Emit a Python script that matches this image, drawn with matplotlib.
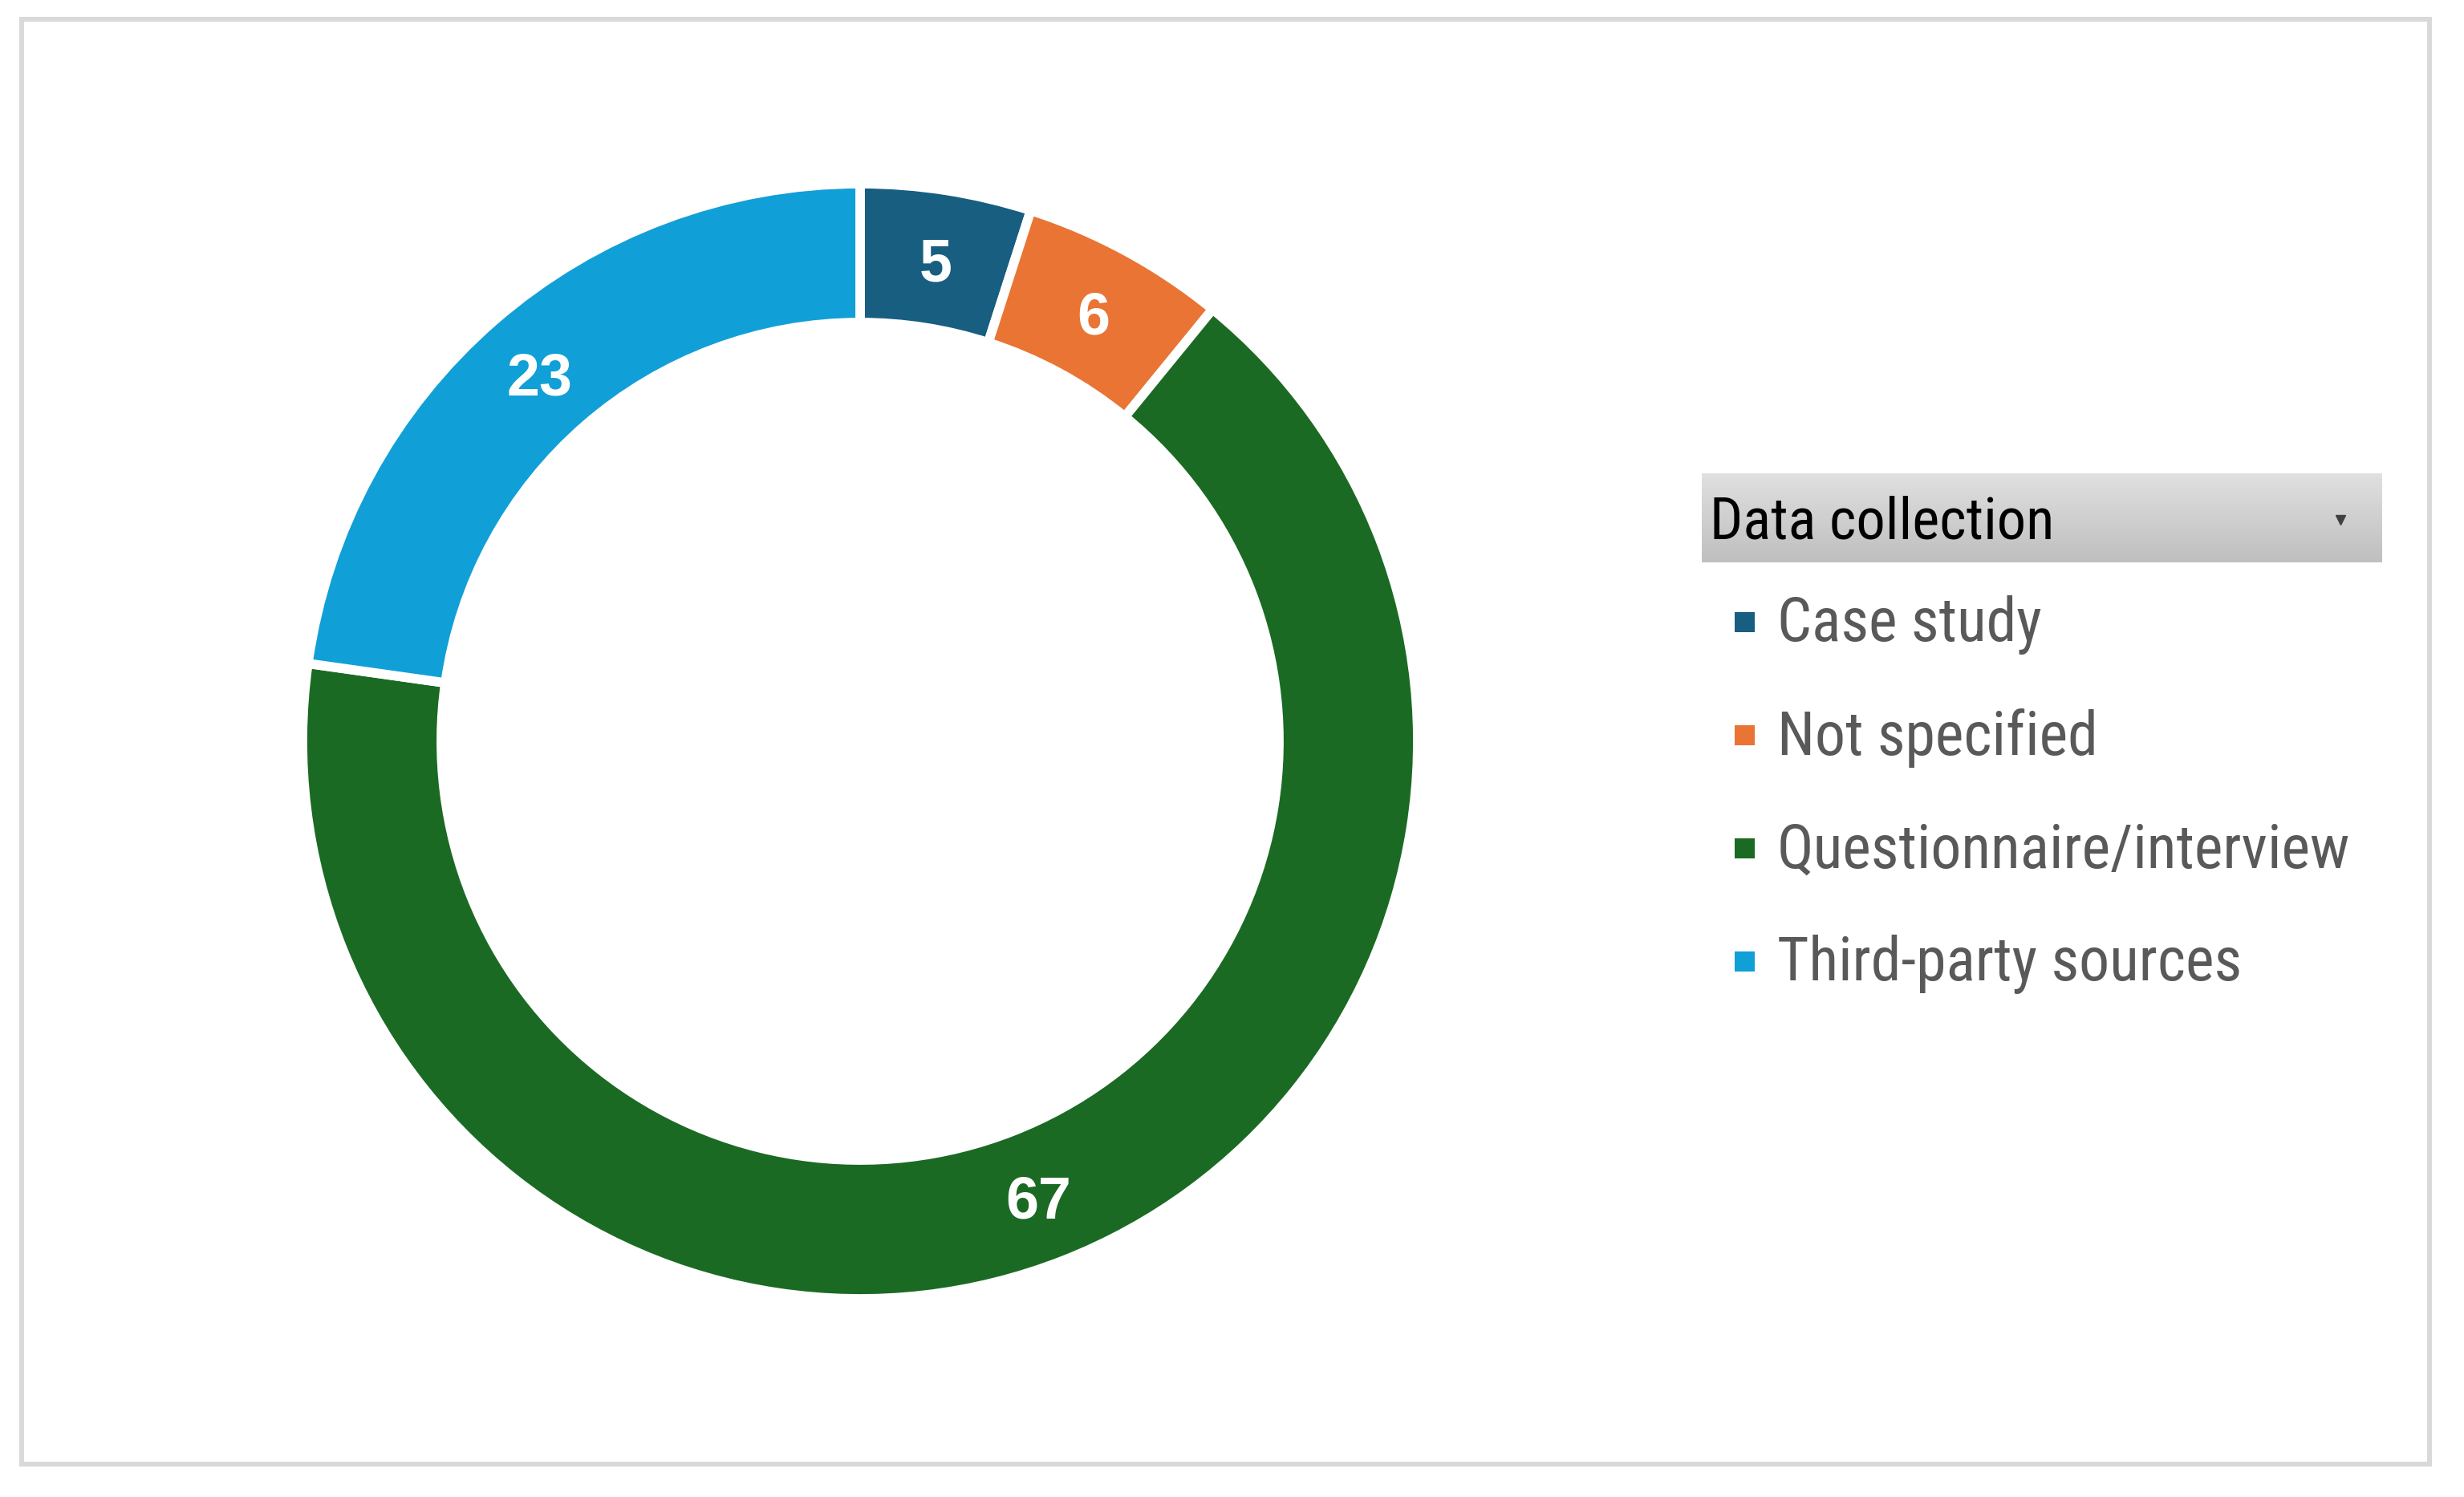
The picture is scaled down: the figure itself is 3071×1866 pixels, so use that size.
#!/usr/bin/env python3

"""Donut chart of data collection methods."""

import matplotlib as mpl
import matplotlib.pyplot as plt
import numpy as np
from matplotlib import font_manager
from matplotlib.colors import LinearSegmentedColormap
from matplotlib.patches import Rectangle

mpl.use("Agg")

categories = ["Case study", "Not specified", "Questionnaire/interview", "Third-party sources"]
counts = [5, 6, 67, 23]
colors = ["#175e80", "#e97434", "#1b6a24", "#119fd7"]
legend_title = "Data collection"

W, H = 3071, 1866

# narrow face for the legend, whatever is installed
names = {f.name for f in font_manager.fontManager.ttflist}
narrow = next((n for n in ["Roboto Condensed", "Archivo Narrow", "Open Sans Condensed",
                           "Liberation Sans Narrow", "Liberation Sans"] if n in names),
              "DejaVu Sans")


def fit_size(fig, ax, s, target_px, size0=50, **kw):
    """Font size that makes string s about target_px wide."""
    t = ax.text(0, 0, s, fontsize=size0, **kw)
    w = t.get_window_extent(fig.canvas.get_renderer()).width
    t.remove()
    return size0 * target_px / w


def main():
    fig = plt.figure(figsize=(W / 100, H / 100), dpi=100)
    fig.patch.set_facecolor("white")
    # axes in pixel units, so aspect is equal by construction
    ax = fig.add_axes([0, 0, 1, 1])

    # outer frame
    ax.add_patch(Rectangle((27, H - 1825), 3001, 1801, fill=False,
                           edgecolor="#d9d9d9", linewidth=4.3))

    # donut
    cx, cy = 1072, H - 924
    r_out, r_in = 695, 522
    wedges, _ = ax.pie(
        counts,
        colors=colors,
        startangle=90,
        counterclock=False,
        center=(cx, cy),
        radius=r_out,
        wedgeprops=dict(width=r_out - r_in, edgecolor="white", linewidth=8.5),
        frame=True,
    )

    r_mid = (r_out + r_in) / 2
    for w, n in zip(wedges, counts):
        ang = np.deg2rad((w.theta1 + w.theta2) / 2)
        ax.text(cx + r_mid * np.cos(ang), cy + r_mid * np.sin(ang) - 8, str(n),
                ha="center", va="center", color="white", fontsize=53,
                fontweight="bold", family="Liberation Sans")

    # legend header with grey gradient
    grad = np.linspace(0, 1, 256).reshape(-1, 1)
    cmap = LinearSegmentedColormap.from_list("hdr", ["#bfbfbf", "#e0e0e0"])
    ax.imshow(grad, extent=[2121, 2969, H - 701, H - 590], cmap=cmap,
              aspect="auto", origin="lower", zorder=1)
    ax.set_xlim(0, W)
    ax.set_ylim(0, H)
    ax.axis("off")

    title_size = fit_size(fig, ax, legend_title, 429, family=narrow)
    ax.text(2131, H - 652, legend_title, ha="left", va="center",
            fontsize=title_size, color="black", family=narrow, zorder=2)
    ax.plot([2917], [H - 648], marker="v", color="#404040", markersize=9, zorder=2)

    # legend entries
    item_size = fit_size(fig, ax, max(categories, key=len), 715, family=narrow)
    for i, (cat, col) in enumerate(zip(categories, colors)):
        y = H - (776 + i * 141)
        ax.add_patch(Rectangle((2162, y - 12), 25, 25, facecolor=col, edgecolor="none"))
        ax.text(2215, y - 3, cat, ha="left", va="center", fontsize=item_size,
                color="#595959", family=narrow)

    fig.savefig("out.png", dpi=100, facecolor="white")


if __name__ == "__main__":
    main()
